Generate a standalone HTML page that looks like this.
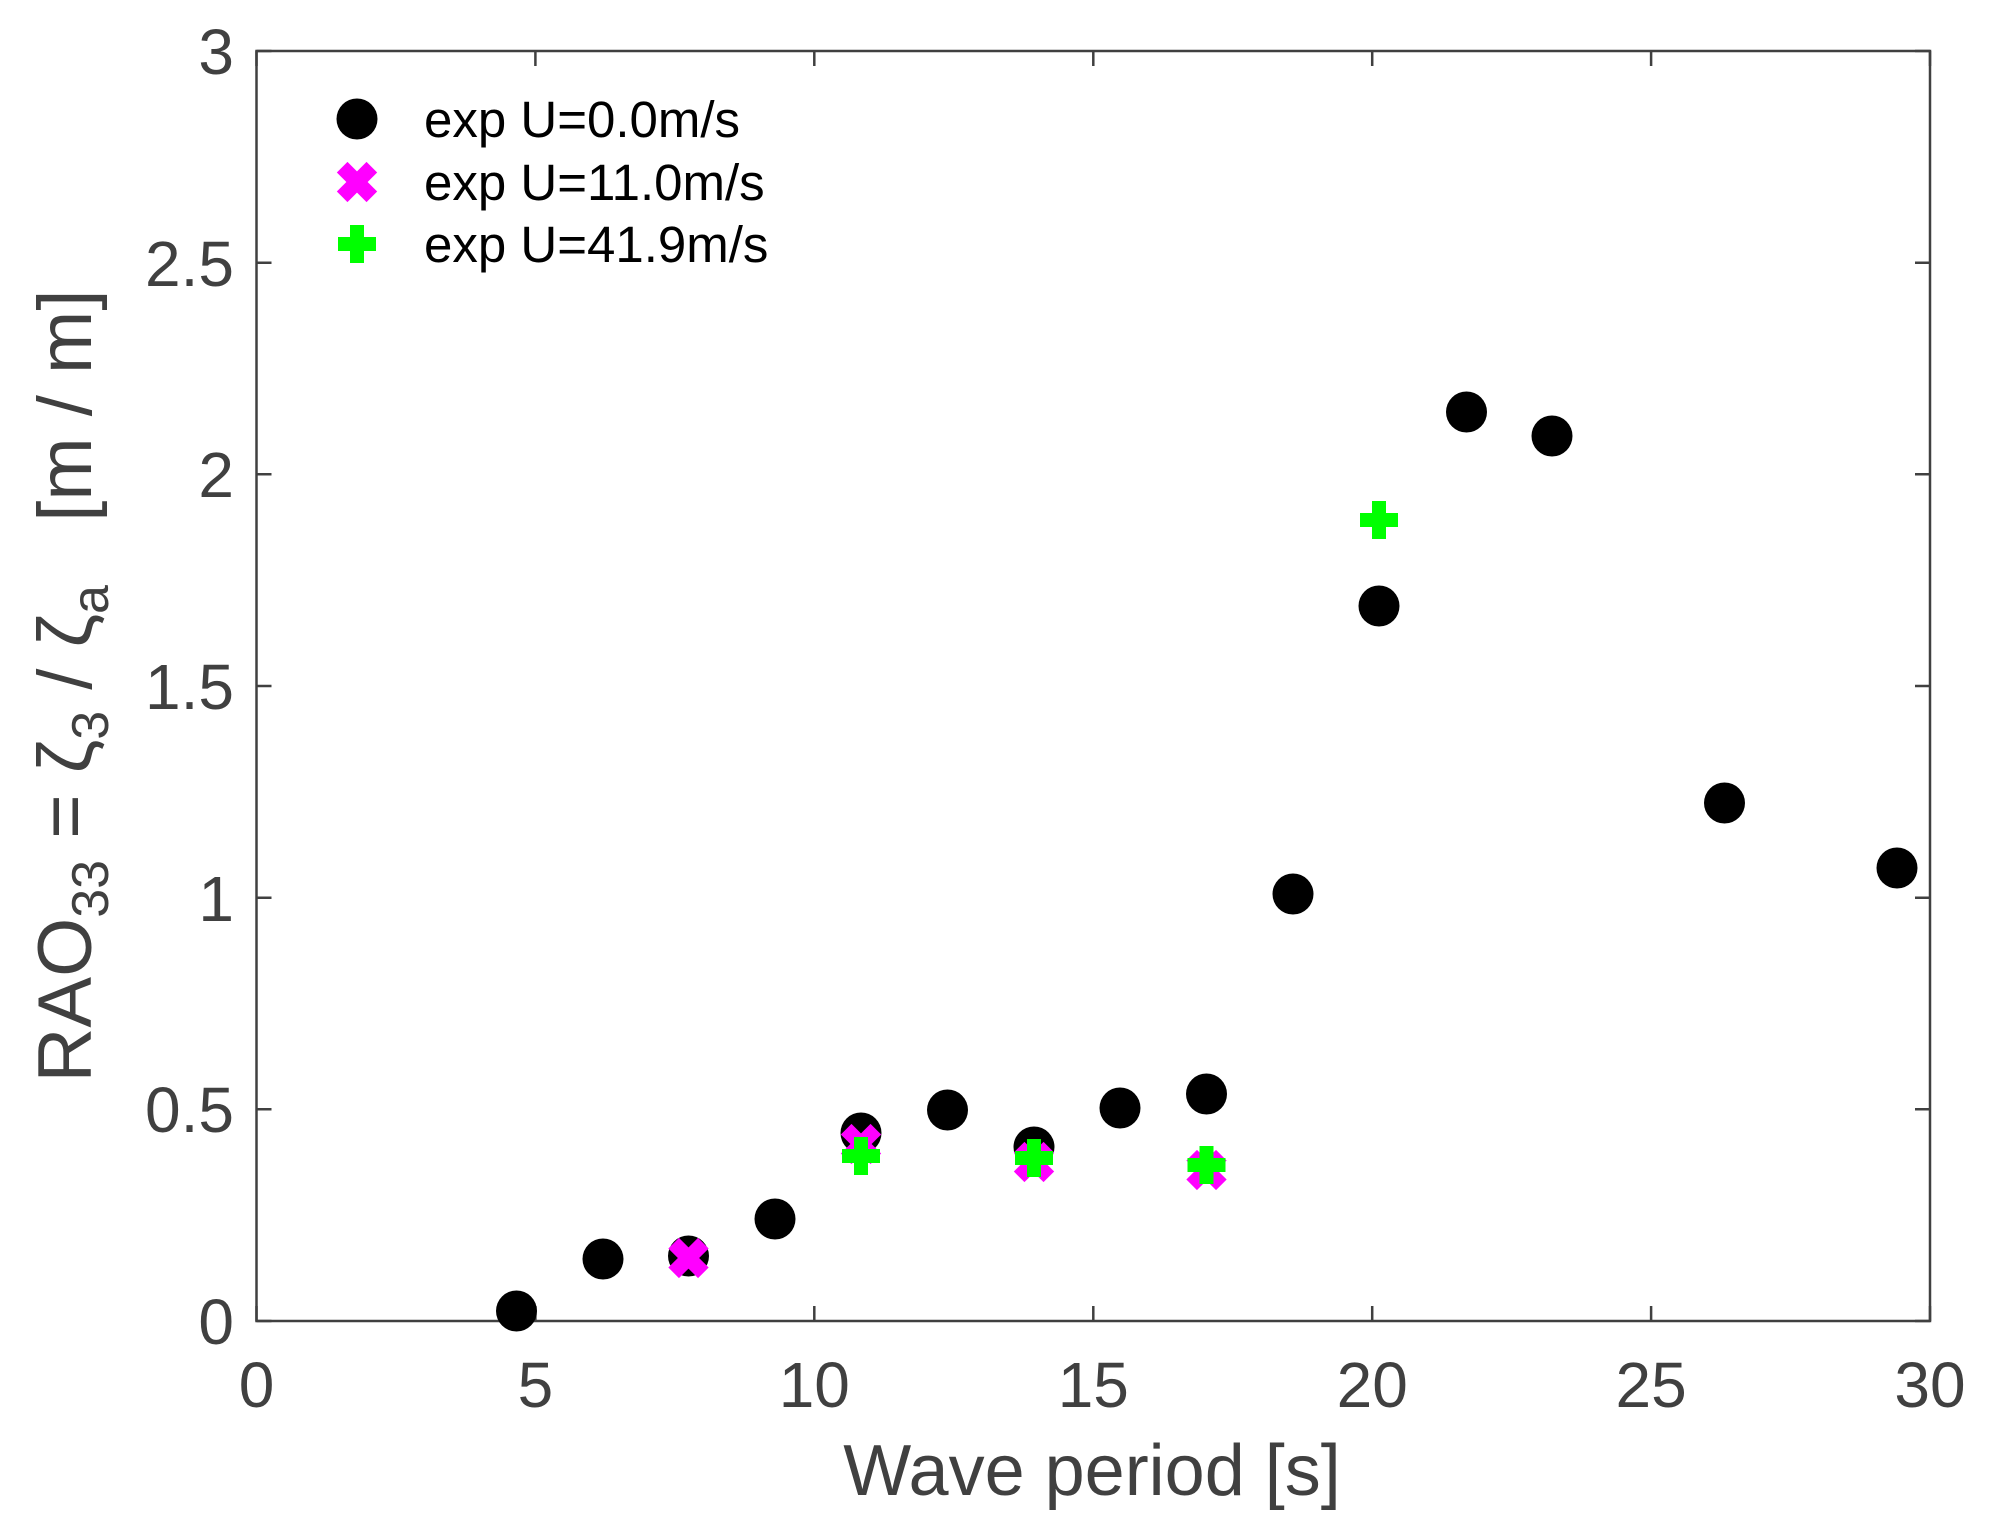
<!DOCTYPE html>
<html><head><meta charset="utf-8"><style>
html,body{margin:0;padding:0;background:#fff;}
svg{display:block;font-family:"Liberation Sans",Arial,sans-serif;}
</style></head><body>
<svg width="1991" height="1532" viewBox="0 0 1991 1532" xmlns="http://www.w3.org/2000/svg">
<defs>
<g id="dot"><circle r="20.5" fill="#000"/></g>
<g id="xm"><g transform="rotate(45)" fill="#ff00ff"><rect x="-21" y="-7.5" width="42" height="15"/><rect x="-7.5" y="-21" width="15" height="42"/></g></g>
<g id="pm" fill="#00ff00"><rect x="-19" y="-7" width="38" height="14"/><rect x="-7" y="-19" width="14" height="38"/></g>
</defs>
<rect width="1991" height="1532" fill="#fff"/>
<g stroke="#404040" stroke-width="2.5" fill="none">
<rect x="256.5" y="51" width="1673.5" height="1270"/>
<path d="M256.5 1321v-15M256.5 51v15M535.4 1321v-15M535.4 51v15M814.3 1321v-15M814.3 51v15M1093.3 1321v-15M1093.3 51v15M1372.2 1321v-15M1372.2 51v15M1651.1 1321v-15M1651.1 51v15M1930 1321v-15M1930 51v15"/>
<path d="M256.5 1321h15M1930 1321h-15M256.5 1109.3h15M1930 1109.3h-15M256.5 897.7h15M1930 897.7h-15M256.5 686h15M1930 686h-15M256.5 474.3h15M1930 474.3h-15M256.5 262.7h15M1930 262.7h-15M256.5 51h15M1930 51h-15"/>
</g>
<g fill="#404040" font-size="64" text-anchor="middle">
<text x="256.5" y="1407">0</text><text x="535.4" y="1407">5</text><text x="814.3" y="1407">10</text><text x="1093.3" y="1407">15</text><text x="1372.2" y="1407">20</text><text x="1651.1" y="1407">25</text><text x="1930" y="1407">30</text>
</g>
<g fill="#404040" font-size="64" text-anchor="end">
<text x="234" y="1344">0</text><text x="234" y="1132">0.5</text><text x="234" y="921">1</text><text x="234" y="709">1.5</text><text x="234" y="497">2</text><text x="234" y="286">2.5</text><text x="234" y="74">3</text>
</g>
<text x="1092" y="1495" font-size="72" fill="#404040" text-anchor="middle">Wave period [s]</text>
<text transform="translate(91,686) rotate(-90)" font-size="76" fill="#404040" text-anchor="middle">RAO<tspan font-size="52" dy="17">33</tspan><tspan dy="-17"> = ζ</tspan><tspan font-size="52" dy="17">3</tspan><tspan dy="-17"> / ζ</tspan><tspan font-size="52" dy="17">a</tspan><tspan dy="-17" xml:space="preserve">   [m / m]</tspan></text>
<g>
<use href="#dot" x="516.5" y="1311"/>
<use href="#dot" x="603" y="1259"/>
<use href="#dot" x="688.5" y="1256"/>
<use href="#dot" x="775" y="1219"/>
<use href="#dot" x="861" y="1133"/>
<use href="#dot" x="947.5" y="1110"/>
<use href="#dot" x="1034" y="1147"/>
<use href="#dot" x="1120" y="1108"/>
<use href="#dot" x="1206.5" y="1094"/>
<use href="#dot" x="1293" y="894"/>
<use href="#dot" x="1379" y="606"/>
<use href="#dot" x="1466.5" y="412"/>
<use href="#dot" x="1552" y="436"/>
<use href="#dot" x="1724.5" y="803"/>
<use href="#dot" x="1897" y="868"/>
</g>
<g>
<use href="#xm" x="688.5" y="1258"/>
<use href="#xm" x="861" y="1144"/>
<use href="#xm" x="1034" y="1162"/>
<use href="#xm" x="1206.5" y="1170"/>
</g>
<g>
<use href="#pm" x="861" y="1156"/>
<use href="#pm" x="1034" y="1158"/>
<use href="#pm" x="1206.5" y="1165"/>
<use href="#pm" x="1379" y="520"/>
</g>
<use href="#dot" x="357" y="119"/>
<use href="#xm" x="357" y="182"/>
<use href="#pm" x="357" y="244"/>
<g fill="#000" font-size="51">
<text x="424" y="137">exp U=0.0m/s</text>
<text x="424" y="200">exp U=11.0m/s</text>
<text x="424" y="262">exp U=41.9m/s</text>
</g>
</svg>
</body></html>
